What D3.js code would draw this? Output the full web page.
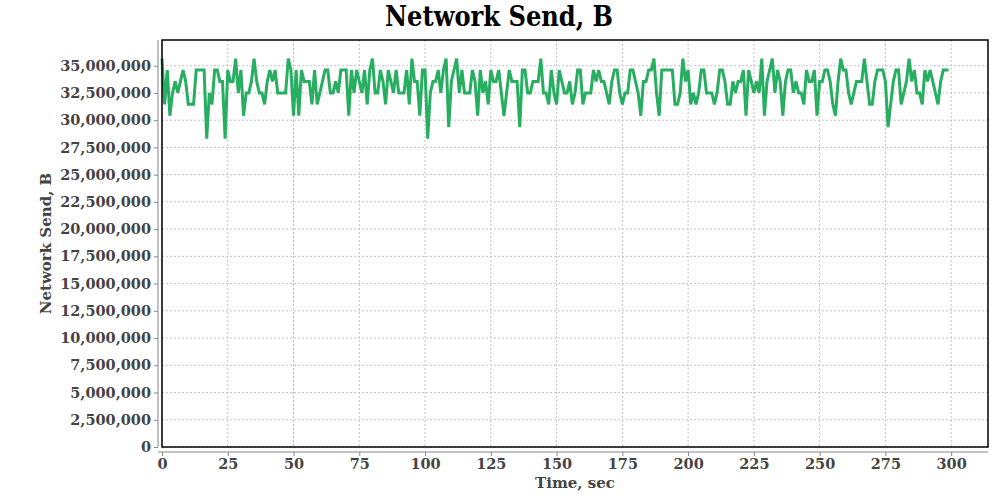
<!DOCTYPE html>
<html>
<head>
<meta charset="utf-8">
<script src="https://cdn.jsdelivr.net/npm/d3@7"></script>
<style>
  html, body { margin: 0; padding: 0; background: #fff; }
  svg { display: block; }
  text { font-family: "DejaVu Serif", serif; font-weight: bold; }
</style>
</head>
<body>
<svg id="chart" width="1000" height="500"></svg>
<script>
// ---- data ----
const title = "Network Send, B";
const xLabel = "Time, sec";
const yLabel = "Network Send, B";
const unitBytes = 1048576; // values below are in MiB
const xTicks = [0, 25, 50, 75, 100, 125, 150, 175, 200, 225, 250, 275, 300];
const yTicks = [0, 2500000, 5000000, 7500000, 10000000, 12500000, 15000000, 17500000,
  20000000, 22500000, 25000000, 27500000, 30000000, 32500000, 35000000];
const sendMiB = [
  34,30,33,29,31,32,31,32,33,32,
  30,30,30,33,33,33,33,27,31,30,
  33,33,32,32,27,33,32,32,34,31,
  33,29,31,31,32,34,32,31,31,30,
  32,33,32,33,31,31,31,31,34,33,
  29,33,29,33,32,32,32,30,33,30,
  31,32,33,33,31,31,32,31,33,33,
  33,29,33,31,33,32,31,33,30,33,
  34,31,31,33,32,30,33,32,31,33,
  31,31,31,33,30,34,32,32,29,33,
  33,27,31,32,32,33,31,33,34,28,
  32,33,34,31,33,31,31,31,33,32,
  29,33,31,32,30,33,32,32,33,31,
  29,31,33,32,32,32,28,33,33,31,
  31,32,32,32,34,31,31,30,33,31,
  30,33,32,31,31,32,30,31,33,33,
  30,31,31,31,33,32,33,32,32,31,
  30,32,33,33,31,30,31,31,33,33,
  32,31,29,32,32,33,33,34,31,29,
  33,33,33,33,33,30,30,31,34,32,
  33,30,31,30,31,33,33,31,31,31,
  30,31,33,33,32,30,30,32,31,32,
  32,33,29,33,32,31,32,31,34,29,
  32,33,34,31,33,32,29,32,33,33,
  31,32,31,31,30,33,32,32,33,29,
  32,32,33,33,32,30,29,32,34,33,
  33,31,30,31,32,32,32,34,32,30,
  30,32,33,33,33,32,28,30,32,33,
  33,30,31,32,34,32,33,31,31,30,
  33,32,33,32,31,30,32,33,33,33
];
const times = sendMiB.map((d, i) => i);

// ---- layout ----
const svg = d3.select("#chart");
const plot = { left: 162, right: 988, top: 40, bottom: 447 };
const x = d3.scaleLinear().domain([0, 314]).range([plot.left, plot.right]);
const y = d3.scaleLinear().domain([0, 37360000]).range([plot.bottom, plot.top]);

const gridColor = "#c4c4c4";
const axisColor = "#888888";
const labelColor = "#444444";

// grid
const grid = svg.append("g");
grid.selectAll("line.vx").data(xTicks).join("line")
  .attr("x1", d => x(d)).attr("x2", d => x(d))
  .attr("y1", plot.top).attr("y2", plot.bottom)
  .attr("stroke", gridColor).attr("stroke-width", 1).attr("stroke-dasharray", "2,2");
grid.selectAll("line.hy").data(yTicks).join("line")
  .attr("x1", plot.left).attr("x2", plot.right)
  .attr("y1", d => y(d)).attr("y2", d => y(d))
  .attr("stroke", gridColor).attr("stroke-width", 1).attr("stroke-dasharray", "2,2");

// line
const line = d3.line()
  .x((d, i) => x(times[i]))
  .y(d => y(d * unitBytes));
svg.append("path")
  .datum(sendMiB)
  .attr("d", line)
  .attr("fill", "none")
  .attr("stroke", "#27ae60")
  .attr("stroke-width", 3)
  .attr("stroke-linejoin", "miter");

// plot border
svg.append("rect")
  .attr("x", plot.left).attr("y", plot.top)
  .attr("width", plot.right - plot.left).attr("height", plot.bottom - plot.top)
  .attr("fill", "none").attr("stroke", "#000").attr("stroke-width", 1.5);

// y axis
const yAxis = d3.axisLeft(y).tickValues(yTicks).tickFormat(d3.format(",")).tickSize(4).tickPadding(3);
const gy = svg.append("g").attr("transform", `translate(${plot.left - 4},0)`).call(yAxis);
gy.select(".domain").attr("stroke", axisColor).attr("d", `M-0,${plot.top}V${plot.bottom}`);
gy.selectAll(".tick line").attr("stroke", axisColor);
gy.selectAll(".tick text").attr("fill", labelColor).style("font-size", "14.5px")
  .style("font-family", "'DejaVu Serif', serif").style("font-weight", "bold");

// x axis
const xAxis = d3.axisBottom(x).tickValues(xTicks).tickFormat(d3.format("d")).tickSize(4).tickPadding(3);
const gx = svg.append("g").attr("transform", `translate(0,${plot.bottom + 5})`).call(xAxis);
gx.select(".domain").attr("stroke", axisColor).attr("d", `M${plot.left - 4},0H${plot.right}`);
gx.selectAll(".tick line").attr("stroke", axisColor);
gx.selectAll(".tick text").attr("fill", labelColor).style("font-size", "14.5px")
  .style("font-family", "'DejaVu Serif', serif").style("font-weight", "bold");

// title
svg.append("text")
  .attr("x", 499).attr("y", 26)
  .attr("text-anchor", "middle")
  .attr("textLength", 228).attr("lengthAdjust", "spacingAndGlyphs")
  .style("font-size", "27px").attr("fill", "#000")
  .text(title);

// axis labels
svg.append("text")
  .attr("x", 575).attr("y", 488)
  .attr("text-anchor", "middle")
  .style("font-size", "15px").attr("fill", labelColor)
  .text(xLabel);
svg.append("text")
  .attr("transform", `translate(51,${(plot.top + plot.bottom) / 2}) rotate(-90)`)
  .attr("text-anchor", "middle")
  .style("font-size", "15px").attr("fill", labelColor)
  .text(yLabel);
</script>
</body>
</html>
